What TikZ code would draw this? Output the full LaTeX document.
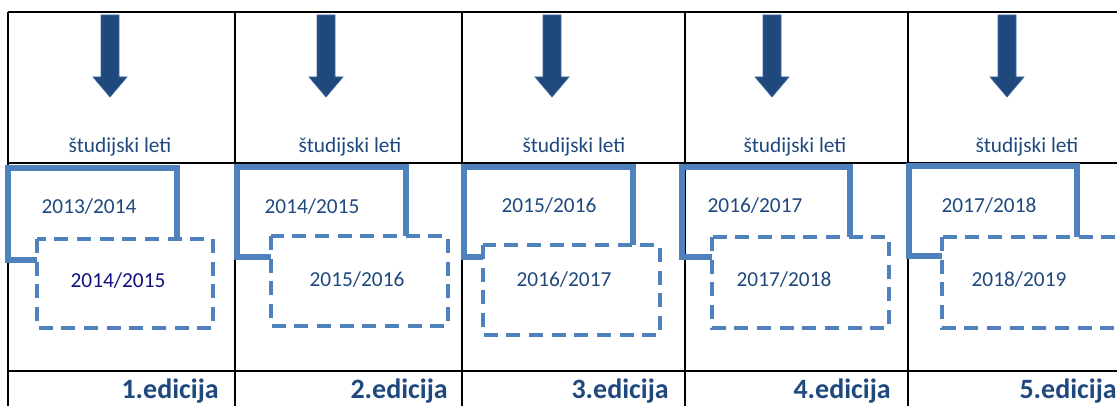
\documentclass[tikz,border=0pt]{standalone}
\usepackage{xcolor}
\usepackage{fontspec}
\setmainfont{Carlito}
\usepackage{tikz}
\usetikzlibrary{calc,positioning}

\definecolor{boxblue}{RGB}{79,129,189}
\definecolor{txtblue}{RGB}{31,73,125}
\definecolor{navyblue}{RGB}{16,16,128}
\definecolor{arrfill}{RGB}{31,73,125}
\definecolor{arredge}{RGB}{65,105,160}

\begin{document}
\begin{tikzpicture}[scale = .75, x = 1pt, y = -1pt]
\tikzstyle{grid}=[draw, line width = 1.3pt]
\tikzstyle{arr}=[fill = arrfill, draw = arredge, line width = .5pt, line join = miter]
\tikzstyle{solidbox}=[draw = boxblue, line width = 4.5pt]
\tikzstyle{dashbox}=[draw = boxblue, fill = white, line width = 3.4pt, dash pattern = on 10.5pt off 6.5pt]
\tikzstyle{lbl}=[inner sep = 0 pt, anchor = base, text = txtblue, font = \fontsize{16}{19}\selectfont]
\tikzstyle{yr}=[inner sep = 0 pt, anchor = base, text = txtblue, font = \fontsize{16}{19}\selectfont]
\tikzstyle{edi}=[inner sep = 0 pt, anchor = base east, text = txtblue, font = \fontsize{21}{25}\selectfont\bfseries]

\useasboundingbox (0,0) rectangle (1117,406);
\clip (0,0) rectangle (1117,406);

% table
\draw[grid] (8,12) -- (1130,12);
\draw[grid] (8,163) -- (1130,163);
\draw[grid] (8,371) -- (1130,371);
\draw[grid] (8,12) -- (8,410);
\draw[grid] (235,12) -- (235,410);
\draw[grid] (462,12) -- (462,410);
\draw[grid] (685,12) -- (685,410);
\draw[grid] (908,12) -- (908,410);

% arrows
\draw[arr] (101,15) -- (119,15) -- (119,77) -- (127,77) -- (110,97) -- (93,77) -- (101,77) -- cycle;
\draw[arr] (317,15) -- (335,15) -- (335,77) -- (343,77) -- (326,97) -- (309,77) -- (317,77) -- cycle;
\draw[arr] (543,15) -- (561,15) -- (561,77) -- (569,77) -- (552,97) -- (535,77) -- (543,77) -- cycle;
\draw[arr] (763,15) -- (781,15) -- (781,77) -- (789,77) -- (772,97) -- (755,77) -- (763,77) -- cycle;
\draw[arr] (998,15) -- (1016,15) -- (1016,77) -- (1024,77) -- (1007,97) -- (990,77) -- (998,77) -- cycle;

\node[lbl] (L1) at (120,153) {študijski leti};
\node[lbl] (L2) at (350,153) {študijski leti};
\node[lbl] (L3) at (574,153) {študijski leti};
\node[lbl] (L4) at (795,153) {študijski leti};
\node[lbl] (L5) at (1027,153) {študijski leti};

% academic years
\draw[solidbox] (8,168) rectangle (177,260);
\draw[dashbox] (37,239) rectangle (213,328);
\draw[solidbox] (237,167) rectangle (406,257);
\draw[dashbox] (271,236) rectangle (448,326);
\draw[solidbox] (464,167) rectangle (633,257);
\draw[dashbox] (483,245) rectangle (660,335);
\draw[solidbox] (682,167) rectangle (850,257);
\draw[dashbox] (712,237) rectangle (889,328);
\draw[solidbox] (909,166) rectangle (1077,256);
\draw[dashbox] (942,237) rectangle (1119,328);

\node[yr] (A1) at (89,214) {2013/2014};
\node[yr, text = navyblue] (B1) at (118,287) {2014/2015};
\node[yr] (A2) at (312,214) {2014/2015};
\node[yr] (B2) at (357,286) {2015/2016};
\node[yr] (A3) at (549,213) {2015/2016};
\node[yr] (B3) at (564,286) {2016/2017};
\node[yr] (A4) at (755,213) {2016/2017};
\node[yr] (B4) at (784,286) {2017/2018};
\node[yr] (A5) at (989,213) {2017/2018};
\node[yr] (B5) at (1019,286) {2018/2019};

% editions
\node[edi] (E1) at (219,398) {1.edicija};
\node[edi] (E2) at (448,398) {2.edicija};
\node[edi] (E3) at (669,398) {3.edicija};
\node[edi] (E4) at (891,398) {4.edicija};
\node[edi] (E5) at (1117,398) {5.edicija};
\end{tikzpicture}
\end{document}
